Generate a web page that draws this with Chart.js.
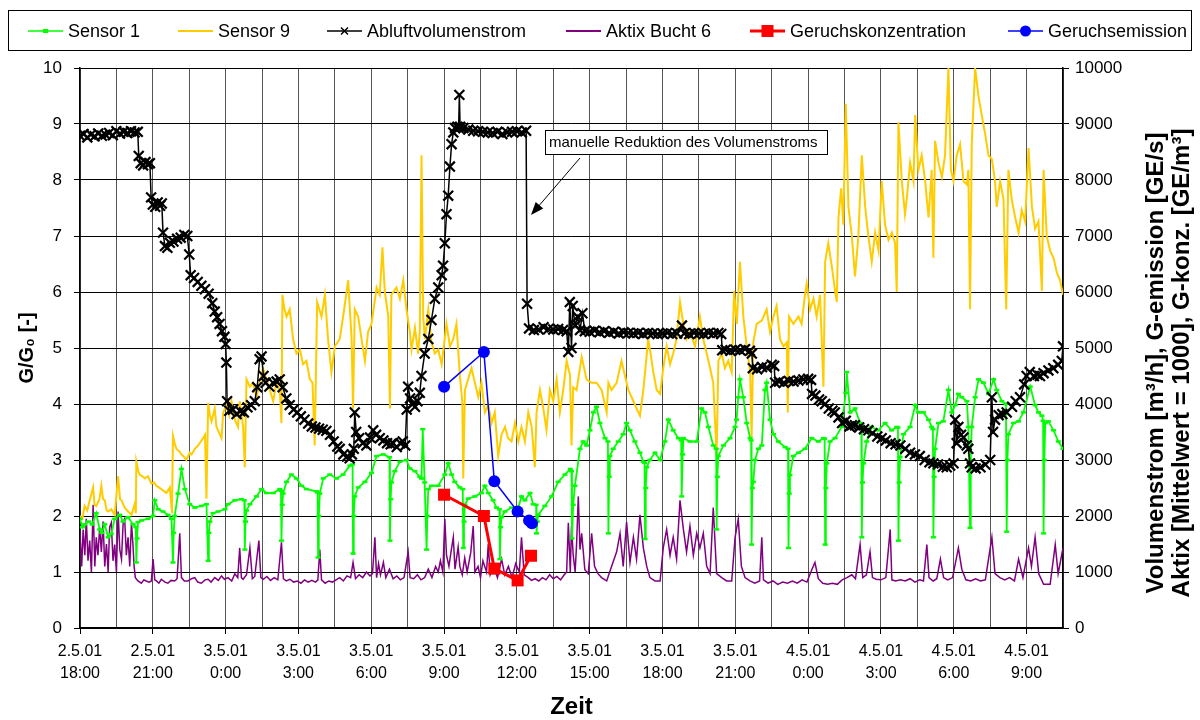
<!DOCTYPE html>
<html><head><meta charset="utf-8">
<script src="https://cdn.jsdelivr.net/npm/chart.js@4.4.0/dist/chart.umd.min.js"></script>
<style>html,body{margin:0;padding:0;background:#fff;}canvas{display:block;}</style>
</head><body>
<canvas id="c" width="1200" height="720" style="width:1200px;height:720px"></canvas>
<script>
// x = hours after 2.5.01 18:00
const xTickLabels = [['2.5.01','18:00'],['2.5.01','21:00'],['3.5.01','0:00'],['3.5.01','3:00'],['3.5.01','6:00'],['3.5.01','9:00'],['3.5.01','12:00'],['3.5.01','15:00'],['3.5.01','18:00'],['3.5.01','21:00'],['4.5.01','0:00'],['4.5.01','3:00'],['4.5.01','6:00'],['4.5.01','9:00']];

// Sensor 1 [G/G0]
const sensor1 = [[0,1.95],[0.10,1.80],[0.19,1.85],[0.35,1.90],[0.50,1.85],[0.67,2.05],[0.81,1.76],[0.90,1.70],[1.02,1.85],[1.16,1.62],[1.29,1.68],[1.43,1.95],[1.64,2.02],[1.77,1.90],[1.98,1.98],[2.19,1.85],[2.30,1.80],[2.32,1.17],[2.35,1.60],[2.39,1.89],[2.53,1.92],[2.80,1.95],[3.01,2.00],[3.08,2.28],[3.22,2.12],[3.42,2.08],[3.63,2.02],[3.77,1.95],[3.83,1.17],[3.86,1.70],[3.90,2.00],[4.04,2.40],[4.18,2.84],[4.32,2.48],[4.52,2.21],[4.73,2.15],[5.00,2.18],[5.21,2.21],[5.28,1.20],[5.31,1.70],[5.35,1.90],[5.48,2.05],[5.69,2.08],[5.97,2.12],[6.10,2.21],[6.38,2.28],[6.65,2.30],[6.77,2.28],[6.79,1.40],[6.82,1.90],[6.86,2.10],[7.00,2.21],[7.27,2.35],[7.48,2.48],[7.68,2.41],[7.96,2.41],[8.23,2.48],[8.28,2.45],[8.30,1.56],[8.33,2.20],[8.37,2.40],[8.51,2.61],[8.71,2.74],[8.92,2.67],[9.13,2.54],[9.33,2.48],[9.75,2.44],[9.79,2.42],[9.81,1.26],[9.84,2.00],[9.88,2.40],[10.02,2.67],[10.29,2.74],[10.57,2.67],[10.84,2.74],[11.12,2.90],[11.23,2.92],[11.25,1.33],[11.28,2.00],[11.32,2.35],[11.46,2.51],[11.74,2.61],[12.01,2.77],[12.22,3.07],[12.49,3.10],[12.75,3.05],[12.77,1.56],[12.80,2.30],[12.83,2.60],[12.97,2.80],[13.18,2.97],[13.45,3.00],[13.59,2.85],[13.80,2.80],[14.00,2.70],[14.07,2.67],[14.12,3.55],[14.20,2.60],[14.28,1.40],[14.31,2.00],[14.35,2.48],[14.48,2.54],[14.76,2.54],[15.03,2.74],[15.17,2.94],[15.31,2.74],[15.44,2.61],[15.65,2.51],[15.77,2.48],[15.79,1.43],[15.82,1.90],[15.86,2.20],[15.99,2.31],[16.27,2.35],[16.54,2.41],[16.68,2.54],[16.82,2.41],[17.02,2.28],[17.16,2.15],[17.28,2.12],[17.30,1.23],[17.33,1.80],[17.37,1.98],[17.51,2.08],[17.78,2.15],[18.06,2.15],[18.19,2.35],[18.33,2.28],[18.54,2.41],[18.67,2.21],[18.79,2.20],[18.81,1.69],[18.84,1.90],[18.88,2.02],[19.15,2.18],[19.43,2.35],[19.70,2.61],[19.98,2.74],[20.20,2.84],[20.25,2.80],[20.27,1.60],[20.32,2.20],[20.39,2.54],[20.60,3.20],[20.73,3.33],[20.87,3.26],[21.01,3.53],[21.15,3.85],[21.28,3.95],[21.42,3.66],[21.63,3.39],[21.75,3.33],[21.77,1.69],[21.80,2.70],[21.83,3.07],[21.97,3.20],[22.18,3.33],[22.38,3.46],[22.52,3.66],[22.66,3.53],[22.86,3.33],[23.07,3.13],[23.21,2.97],[23.26,2.95],[23.28,1.59],[23.31,2.50],[23.35,2.87],[23.48,3.00],[23.69,3.13],[23.90,3.00],[24.10,3.33],[24.24,3.72],[24.44,3.53],[24.65,3.39],[24.77,3.35],[24.79,2.35],[24.83,3.10],[24.86,3.39],[25.13,3.33],[25.41,3.33],[25.61,3.92],[25.75,3.85],[25.89,3.59],[26.09,3.26],[26.21,3.20],[26.23,1.76],[26.26,2.70],[26.30,3.07],[26.51,3.26],[26.78,3.39],[26.99,3.59],[27.05,3.72],[27.12,4.12],[27.19,4.44],[27.33,4.12],[27.47,3.66],[27.61,3.39],[27.65,3.35],[27.67,1.49],[27.70,2.50],[27.74,2.61],[27.81,3.00],[27.95,3.20],[28.09,3.26],[28.22,4.25],[28.29,4.38],[28.43,3.72],[28.57,3.46],[28.77,3.33],[29.05,3.23],[29.17,3.20],[29.19,1.43],[29.22,2.40],[29.25,2.73],[29.39,3.07],[29.60,3.13],[29.87,3.20],[30.15,3.39],[30.42,3.33],[30.63,3.39],[30.68,3.38],[30.70,1.49],[30.73,2.50],[30.77,2.94],[30.90,3.33],[31.11,3.39],[31.38,3.59],[31.55,4.20],[31.59,4.57],[31.73,3.85],[31.93,3.92],[32.14,3.66],[32.19,3.60],[32.21,1.62],[32.24,2.60],[32.28,2.94],[32.41,3.33],[32.62,3.59],[32.89,3.53],[33.17,3.66],[33.44,3.53],[33.65,3.59],[33.70,3.58],[33.72,1.56],[33.75,2.60],[33.79,3.05],[33.93,3.46],[34.20,3.59],[34.41,3.98],[34.54,3.85],[34.75,3.85],[34.96,3.72],[35.09,3.59],[35.14,3.55],[35.16,1.62],[35.19,2.70],[35.23,3.20],[35.37,3.66],[35.57,3.69],[35.78,4.25],[35.92,3.85],[36.06,3.98],[36.19,4.18],[36.33,4.12],[36.54,4.05],[36.60,3.59],[36.67,1.79],[36.70,3.00],[36.74,3.59],[36.88,4.12],[37.02,4.44],[37.22,4.38],[37.43,4.18],[37.64,4.44],[37.77,4.25],[37.98,4.05],[38.15,4.00],[38.18,1.72],[38.21,3.00],[38.25,3.46],[38.46,3.66],[38.67,3.69],[38.87,3.85],[39.15,4.31],[39.35,3.98],[39.49,3.85],[39.63,3.79],[39.68,3.70],[39.70,1.69],[39.73,3.00],[39.77,3.66],[39.90,3.69],[40.11,3.53],[40.31,3.33],[40.50,3.20]];

// Sensor 9 [G/G0]
const sensor9 = [[0,2.00],[0.10,1.95],[0.19,2.18],[0.30,2.10],[0.40,2.28],[0.54,2.51],[0.60,2.20],[0.67,2.18],[0.80,2.30],[0.88,2.54],[0.95,2.30],[1.02,2.28],[1.10,2.10],[1.16,2.08],[1.29,2.12],[1.43,2.02],[1.57,2.71],[1.65,2.30],[1.71,2.28],[1.84,2.15],[1.98,2.08],[2.12,2.02],[2.25,2.21],[2.30,2.05],[2.32,2.97],[2.40,2.80],[2.46,2.74],[2.60,2.70],[2.67,2.67],[2.80,2.71],[2.94,2.58],[3.05,2.60],[3.15,2.54],[3.35,2.48],[3.56,2.41],[3.70,2.51],[3.79,2.05],[3.83,3.43],[3.90,3.30],[3.97,3.20],[4.10,3.15],[4.18,3.10],[4.30,3.05],[4.38,3.00],[4.52,3.13],[4.60,3.10],[4.73,3.20],[4.85,3.25],[4.93,3.30],[5.07,3.39],[5.15,3.45],[5.21,2.31],[5.28,4.02],[5.35,3.80],[5.42,3.69],[5.55,3.92],[5.62,3.60],[5.69,3.53],[5.83,3.39],[5.90,3.85],[6.03,3.98],[6.15,3.80],[6.24,4.05],[6.38,3.72],[6.51,3.59],[6.58,4.05],[6.72,3.59],[6.79,2.87],[6.86,4.44],[7.00,4.31],[7.13,4.38],[7.27,4.12],[7.41,4.38],[7.54,4.64],[7.68,4.44],[7.82,4.25],[7.96,4.05],[8.09,4.38],[8.23,4.25],[8.30,3.66],[8.34,5.95],[8.42,5.70],[8.51,5.56],[8.64,5.69],[8.78,5.16],[8.92,4.90],[9.06,4.97],[9.19,4.71],[9.33,4.77],[9.47,4.44],[9.58,4.38],[9.67,3.26],[9.77,5.82],[9.95,5.56],[10.09,5.95],[10.22,5.16],[10.36,4.57],[10.50,5.03],[10.70,5.16],[10.84,5.56],[11.05,6.21],[11.19,5.16],[11.25,3.92],[11.32,5.69],[11.46,5.56],[11.60,5.16],[11.74,4.77],[11.87,5.29],[12.01,5.43],[12.22,6.08],[12.35,5.95],[12.46,6.80],[12.56,6.00],[12.70,5.56],[12.77,3.92],[12.83,5.95],[13.04,6.08],[13.18,5.88],[13.32,6.21],[13.45,5.69],[13.59,5.29],[13.66,4.97],[13.80,5.36],[13.93,4.90],[14.00,5.30],[14.07,8.44],[14.14,5.56],[14.21,5.16],[14.35,5.69],[14.48,5.10],[14.62,4.90],[14.76,4.97],[14.90,4.71],[15.10,5.43],[15.24,5.03],[15.38,5.16],[15.51,5.43],[15.65,4.51],[15.75,4.05],[15.79,2.67],[15.86,4.25],[15.99,4.44],[16.13,4.64],[16.27,4.38],[16.41,4.12],[16.54,4.38],[16.68,3.85],[16.82,3.98],[16.96,3.66],[17.09,3.85],[17.23,3.07],[17.37,3.46],[17.51,3.59],[17.64,3.39],[17.78,3.33],[17.92,3.66],[18.06,3.33],[18.19,3.59],[18.33,3.33],[18.47,3.85],[18.61,3.59],[18.74,2.87],[18.81,3.85],[18.95,4.25],[19.09,3.92],[19.22,3.53],[19.36,4.25],[19.50,4.05],[19.64,4.44],[19.77,3.85],[19.91,4.25],[20.05,4.77],[20.19,4.51],[20.25,3.26],[20.32,4.30],[20.46,4.25],[20.67,4.84],[20.87,4.44],[21.08,4.38],[21.28,4.38],[21.49,4.25],[21.56,4.12],[21.70,3.85],[21.77,4.38],[21.90,4.25],[22.11,4.38],[22.31,4.77],[22.45,4.51],[22.59,4.25],[22.73,4.12],[22.93,3.92],[23.07,3.79],[23.21,4.25],[23.41,5.16],[23.51,4.90],[23.62,4.57],[23.76,4.25],[23.90,4.18],[24.03,4.64],[24.17,5.03],[24.31,4.71],[24.44,4.90],[24.58,5.16],[24.72,5.82],[24.86,5.43],[24.99,5.16],[25.13,5.29],[25.34,5.03],[25.54,5.56],[25.68,5.16],[25.82,4.90],[25.96,4.64],[26.09,4.38],[26.23,3.07],[26.30,4.77],[26.44,4.90],[26.57,4.64],[26.71,4.77],[26.85,4.57],[26.95,6.02],[27.06,5.43],[27.19,6.54],[27.33,5.56],[27.47,5.03],[27.61,4.57],[27.67,3.39],[27.74,5.10],[27.88,5.43],[28.09,5.49],[28.29,5.69],[28.43,5.29],[28.57,5.56],[28.70,5.75],[28.84,5.16],[28.98,5.03],[29.12,5.10],[29.16,3.85],[29.21,5.56],[29.39,5.43],[29.60,5.56],[29.73,5.43],[29.87,5.95],[29.94,6.15],[30.08,5.69],[30.22,5.88],[30.35,5.56],[30.49,5.95],[30.63,4.31],[30.70,6.54],[30.83,6.87],[30.97,6.47],[31.11,6.02],[31.18,5.82],[31.25,7.33],[31.36,7.85],[31.45,7.20],[31.55,9.36],[31.66,7.52],[31.80,7.00],[31.93,6.28],[32.07,7.00],[32.21,8.44],[32.35,7.52],[32.48,7.00],[32.62,6.54],[32.76,7.06],[32.90,6.74],[33.03,7.98],[33.17,7.20],[33.31,6.93],[33.45,7.06],[33.58,6.87],[33.65,6.00],[33.72,9.03],[33.86,7.98],[33.99,7.39],[34.06,7.65],[34.20,8.31],[34.34,7.98],[34.41,9.16],[34.54,8.18],[34.68,8.44],[34.82,7.98],[34.96,7.33],[35.09,8.18],[35.16,6.61],[35.23,8.70],[35.37,8.31],[35.51,8.05],[35.64,8.44],[35.78,10.0],[35.88,8.18],[35.99,7.98],[36.12,8.44],[36.26,8.64],[36.40,7.98],[36.54,7.92],[36.60,8.18],[36.67,5.69],[36.74,8.64],[36.88,10.0],[37.02,9.49],[37.15,9.16],[37.29,8.83],[37.43,8.44],[37.57,8.37],[37.70,7.98],[37.77,7.52],[37.91,7.98],[38.05,7.65],[38.16,5.69],[38.25,8.18],[38.39,7.65],[38.53,7.33],[38.67,7.06],[38.80,7.46],[38.94,7.26],[39.08,8.57],[39.22,7.52],[39.35,7.13],[39.49,7.26],[39.63,6.02],[39.70,8.18],[39.83,7.00],[39.97,6.74],[40.11,6.61],[40.25,6.34],[40.38,6.21],[40.50,5.95]];

// Abluftvolumenstrom [m3/h]
const abluft = [[0,8790],[0.15,8820],[0.30,8760],[0.45,8810],[0.60,8780],[0.75,8830],[0.90,8790],[1.05,8810],[1.20,8840],[1.35,8800],[1.50,8870],[1.65,8830],[1.80,8860],[1.95,8840],[2.10,8870],[2.25,8850],[2.38,8860],[2.42,8430],[2.50,8300],[2.60,8260],[2.70,8320],[2.80,8280],[2.88,8300],[2.93,7690],[3.00,7560],[3.10,7520],[3.20,7600],[3.30,7540],[3.37,7580],[3.42,7060],[3.50,6820],[3.60,6790],[3.70,6880],[3.85,6900],[4.00,6950],[4.15,6970],[4.30,7020],[4.42,7000],[4.50,6670],[4.56,6300],[4.70,6250],[4.85,6180],[5.00,6110],[5.15,6050],[5.30,5970],[5.45,5800],[5.55,5650],[5.65,5550],[5.75,5430],[5.85,5300],[5.95,5200],[6.00,5070],[6.03,4740],[6.06,4050],[6.15,3880],[6.30,3900],[6.45,3820],[6.60,3870],[6.75,3850],[6.90,3940],[7.05,3980],[7.20,4050],[7.30,4300],[7.40,4800],[7.48,4850],[7.56,4500],[7.65,4380],[7.80,4310],[7.95,4380],[8.10,4400],[8.23,4440],[8.35,4300],[8.50,4100],[8.64,3980],[8.80,3900],[8.95,3850],[9.10,3780],[9.25,3720],[9.40,3650],[9.55,3600],[9.70,3580],[9.85,3560],[10.00,3540],[10.15,3520],[10.30,3450],[10.45,3330],[10.60,3240],[10.70,3200],[10.85,3100],[11.00,3060],[11.11,3030],[11.20,3100],[11.28,3200],[11.32,3850],[11.38,3500],[11.50,3390],[11.65,3300],[11.80,3260],[11.95,3400],[12.08,3530],[12.20,3450],[12.35,3390],[12.50,3350],[12.65,3300],[12.80,3280],[12.90,3300],[13.05,3230],[13.20,3300],[13.30,3330],[13.40,3260],[13.46,3900],[13.52,4310],[13.60,4100],[13.70,4000],[13.80,3950],[13.90,4050],[14.00,4200],[14.07,4500],[14.20,4900],[14.35,5160],[14.48,5500],[14.62,5880],[14.76,6080],[14.90,6300],[14.96,6470],[15.03,6870],[15.10,7390],[15.17,7720],[15.24,8240],[15.31,8640],[15.38,8850],[15.45,8930],[15.55,8950],[15.60,8930],[15.63,9520],[15.66,8950],[15.80,8930],[16.00,8900],[16.20,8880],[16.40,8870],[16.60,8860],[16.80,8850],[17.00,8840],[17.20,8860],[17.40,8820],[17.60,8850],[17.80,8860],[18.00,8870],[18.20,8850],[18.38,8880],[18.42,5790],[18.50,5350],[18.70,5320],[18.90,5330],[19.10,5370],[19.30,5340],[19.50,5330],[19.70,5340],[19.90,5320],[20.05,5300],[20.12,4930],[20.18,5820],[20.25,5000],[20.30,5750],[20.40,5400],[20.50,5560],[20.60,5320],[20.70,5620],[20.80,5300],[21.00,5290],[21.20,5310],[21.40,5280],[21.60,5300],[21.80,5270],[22.00,5290],[22.20,5260],[22.40,5280],[22.60,5270],[22.80,5260],[23.00,5270],[23.20,5250],[23.40,5270],[23.60,5260],[23.80,5250],[24.00,5260],[24.20,5270],[24.40,5250],[24.60,5260],[24.80,5400],[24.90,5260],[25.10,5250],[25.30,5270],[25.50,5260],[25.70,5250],[25.90,5270],[26.10,5260],[26.30,5270],[26.42,5250],[26.46,4960],[26.60,4970],[26.80,4950],[27.00,4970],[27.20,4960],[27.40,4980],[27.60,4950],[27.68,4900],[27.72,4640],[27.90,4620],[28.10,4660],[28.30,4650],[28.50,4700],[28.60,4680],[28.64,4380],[28.80,4400],[29.00,4380],[29.20,4410],[29.40,4400],[29.60,4420],[29.80,4440],[30.00,4450],[30.12,4430],[30.16,4180],[30.30,4150],[30.45,4080],[30.56,4050],[30.70,4000],[30.85,3920],[31.00,3880],[31.10,3850],[31.25,3760],[31.40,3660],[31.55,3700],[31.70,3600],[31.80,3620],[31.93,3620],[32.10,3580],[32.30,3550],[32.48,3530],[32.65,3480],[32.85,3420],[33.03,3390],[33.20,3350],[33.40,3300],[33.60,3280],[33.80,3260],[34.00,3200],[34.20,3130],[34.40,3100],[34.60,3070],[34.80,3000],[35.00,2960],[35.16,2940],[35.35,2920],[35.55,2880],[35.71,2870],[35.85,2900],[35.99,2940],[36.06,3720],[36.12,3300],[36.19,3590],[36.30,3450],[36.40,3400],[36.53,3260],[36.60,3200],[36.67,2940],[36.74,2870],[36.90,2850],[37.10,2870],[37.30,2920],[37.50,3000],[37.57,4120],[37.62,3500],[37.70,3720],[37.85,3800],[38.00,3820],[38.18,3850],[38.40,3950],[38.55,4050],[38.73,4120],[38.90,4350],[39.00,4500],[39.13,4570],[39.30,4500],[39.45,4520],[39.55,4500],[39.70,4550],[39.90,4600],[40.10,4640],[40.30,4700],[40.45,4770],[40.50,5030]];

// Aktix Bucht 6 [Mittelwert = 1000]
const aktix = [[0,1700],[0.07,1100],[0.13,1760],[0.20,1300],[0.26,1950],[0.33,1200],[0.40,1560],[0.47,1000],[0.54,2200],[0.61,1100],[0.67,1620],[0.74,1300],[0.81,1800],[0.88,1360],[0.95,1900],[1.02,1100],[1.09,1500],[1.16,1000],[1.22,1800],[1.29,1880],[1.36,1200],[1.43,1490],[1.50,1000],[1.57,2080],[1.64,1400],[1.71,1230],[1.78,1900],[1.84,1950],[1.91,1300],[1.98,1620],[2.05,1100],[2.12,1880],[2.18,1500],[2.23,1100],[2.28,900],[2.39,840],[2.53,800],[2.63,860],[2.73,840],[2.85,820],[2.94,840],[3.01,1230],[3.08,860],[3.15,840],[3.25,800],[3.35,870],[3.50,820],[3.62,800],[3.75,850],[3.90,840],[4.00,880],[4.11,1690],[4.18,900],[4.30,840],[4.45,840],[4.60,880],[4.73,900],[4.85,820],[5.00,800],[5.15,860],[5.28,870],[5.40,820],[5.55,900],[5.70,850],[5.83,930],[5.95,870],[6.10,900],[6.25,840],[6.38,970],[6.50,900],[6.58,1430],[6.65,900],[6.72,870],[6.86,950],[7.00,1430],[7.10,880],[7.20,920],[7.37,1560],[7.45,900],[7.55,870],[7.70,920],[7.85,850],[8.00,900],[8.15,860],[8.30,1530],[8.38,880],[8.50,840],[8.65,870],[8.80,820],[8.95,840],[9.10,800],[9.25,860],[9.40,820],[9.55,850],[9.70,820],[9.80,860],[9.88,1400],[9.95,860],[10.10,800],[10.25,840],[10.40,820],[10.55,860],[10.70,900],[10.85,840],[11.00,930],[11.15,900],[11.25,1170],[11.35,880],[11.50,950],[11.65,900],[11.80,1000],[11.95,930],[12.05,970],[12.15,1620],[12.22,900],[12.30,1150],[12.38,950],[12.50,1170],[12.60,900],[12.75,1050],[12.90,880],[13.05,930],[13.20,860],[13.35,900],[13.52,1360],[13.60,900],[13.75,880],[13.90,950],[14.05,860],[14.20,900],[14.35,1050],[14.50,900],[14.65,1100],[14.76,1000],[14.85,1200],[14.95,1000],[15.03,1950],[15.10,1300],[15.20,1100],[15.30,1400],[15.38,1620],[15.45,1050],[15.58,1450],[15.65,1100],[15.75,950],[15.85,1250],[15.95,1000],[16.10,1350],[16.20,1820],[16.27,1000],[16.40,1100],[16.50,900],[16.60,1200],[16.75,1000],[16.82,1500],[16.90,950],[17.05,1100],[17.20,900],[17.37,1230],[17.50,950],[17.65,1100],[17.80,900],[17.95,1150],[18.10,1000],[18.19,1620],[18.30,950],[18.47,900],[18.60,850],[18.75,880],[18.90,840],[19.05,900],[19.20,860],[19.35,950],[19.50,880],[19.65,920],[19.80,860],[19.95,950],[20.05,1000],[20.12,1880],[20.20,1000],[20.25,1820],[20.32,1300],[20.40,1000],[20.46,1500],[20.53,2350],[20.60,1400],[20.67,1690],[20.80,1040],[20.94,970],[21.08,1690],[21.20,1100],[21.34,970],[21.49,900],[21.70,840],[21.90,1100],[22.11,1360],[22.25,1690],[22.38,1100],[22.52,1890],[22.66,1170],[22.80,1620],[22.93,1230],[23.07,2020],[23.21,1430],[23.35,1100],[23.48,900],[23.69,840],[23.90,840],[24.03,1430],[24.17,1760],[24.31,1300],[24.44,1620],[24.58,1230],[24.72,2280],[24.86,1760],[24.99,1360],[25.13,1820],[25.27,1300],[25.41,1690],[25.54,1430],[25.68,1690],[25.82,1100],[25.96,970],[26.09,2150],[26.23,970],[26.44,900],[26.64,840],[26.85,840],[26.99,1620],[27.12,1950],[27.25,1100],[27.40,900],[27.60,840],[27.80,800],[28.00,840],[28.09,1620],[28.16,860],[28.35,800],[28.55,840],[28.75,780],[28.95,820],[29.15,800],[29.35,840],[29.55,800],[29.75,860],[29.95,820],[30.15,1040],[30.28,1170],[30.42,880],[30.60,800],[30.80,780],[31.00,800],[31.20,780],[31.40,860],[31.60,900],[31.80,950],[31.95,880],[32.14,1490],[32.25,900],[32.40,950],[32.55,1360],[32.65,900],[32.80,870],[33.00,860],[33.20,900],[33.38,1760],[33.45,860],[33.60,840],[33.80,860],[34.00,840],[34.20,880],[34.40,820],[34.60,860],[34.75,840],[34.89,1490],[34.98,900],[35.15,840],[35.30,880],[35.45,1230],[35.58,900],[35.75,860],[35.95,900],[36.19,1430],[36.33,1050],[36.50,860],[36.70,840],[36.90,880],[37.10,840],[37.30,860],[37.57,1620],[37.70,970],[37.90,900],[38.10,860],[38.30,900],[38.50,840],[38.67,1230],[38.85,900],[39.08,1430],[39.20,1100],[39.35,1620],[39.50,970],[39.70,780],[39.97,780],[40.18,1490],[40.30,970],[40.50,1430]];

// Geruchskonzentration [GE/m3]
const geruchKonz = [[15.00,2380],[16.64,2000],[17.07,1060],[18.03,850],[18.58,1290]];
// Geruchsemission [GE/s]
const geruchEmis = [[15.00,4310],[16.64,4930],[17.07,2620],[18.03,2080],[18.50,1920],[18.62,1870]];

const FONT = "'Liberation Sans', Arial, Helvetica, sans-serif";
Chart.defaults.font.family = FONT;
Chart.defaults.color = '#000';
const toXY = a => a.map(p => ({x: p[0], y: p[1]}));

const legendItems = [
  {text: 'Sensor 1', x: 28, color: '#00FF00', lw: 1.5, mark: 'dash'},
  {text: 'Sensor 9', x: 178, color: '#FFCC00', lw: 2, mark: null},
  {text: 'Abluftvolumenstrom', x: 327, color: '#000000', lw: 1.5, mark: 'x'},
  {text: 'Aktix Bucht 6', x: 566, color: '#800080', lw: 2, mark: null},
  {text: 'Geruchskonzentration', x: 750, color: '#FF0000', lw: 3, mark: 'sq'},
  {text: 'Geruchsemission', x: 1008, color: '#0000FF', lw: 1.5, mark: 'dot'}
];

const overlay = {
  id: 'overlay',
  beforeDraw(chart) {
    const c = chart.ctx; c.save(); c.fillStyle = '#fff'; c.fillRect(0, 0, chart.width, chart.height); c.restore();
  },
  afterDraw(chart) {
    const c = chart.ctx;
    c.save();
    c.strokeStyle = '#000'; c.lineWidth = 1;
    c.strokeRect(8.5, 10.5, 1183, 40);
    const ly = 31;
    c.font = '18px ' + FONT; c.textBaseline = 'middle'; c.textAlign = 'left';
    legendItems.forEach(it => {
      c.strokeStyle = it.color; c.fillStyle = it.color; c.lineWidth = it.lw;
      c.beginPath(); c.moveTo(it.x, ly); c.lineTo(it.x + 35, ly); c.stroke();
      const mx = it.x + 17.5;
      if (it.mark === 'dash') { c.fillRect(mx - 2.5, ly - 2, 5, 4); }
      if (it.mark === 'x') { c.lineWidth = 1.5; c.beginPath(); c.moveTo(mx-3.5, ly-3.5); c.lineTo(mx+3.5, ly+3.5); c.moveTo(mx+3.5, ly-3.5); c.lineTo(mx-3.5, ly+3.5); c.stroke(); }
      if (it.mark === 'sq') { c.fillRect(mx - 6, ly - 6, 12, 12); }
      if (it.mark === 'dot') { c.beginPath(); c.arc(mx, ly, 5.5, 0, Math.PI*2); c.fill(); }
      c.fillStyle = '#000';
      c.fillText(it.text, it.x + 40, ly + 1);
    });
    c.fillStyle = '#fff'; c.fillRect(545.5, 130.5, 282, 24);
    c.strokeStyle = '#000'; c.lineWidth = 1; c.strokeRect(545.5, 130.5, 282, 24);
    c.fillStyle = '#000'; c.font = '15px ' + FONT; c.textBaseline = 'middle';
    c.fillText('manuelle Reduktion des Volumenstroms', 549, 143);
    const x1 = 580, y1 = 158, x2 = 531, y2 = 215;
    const ang = Math.atan2(y2 - y1, x2 - x1);
    c.beginPath(); c.moveTo(x1, y1); c.lineTo(x2 - 10*Math.cos(ang), y2 - 10*Math.sin(ang)); c.stroke();
    c.beginPath(); c.moveTo(x2, y2);
    c.lineTo(x2 - 13*Math.cos(ang) + 5*Math.sin(ang), y2 - 13*Math.sin(ang) - 5*Math.cos(ang));
    c.lineTo(x2 - 13*Math.cos(ang) - 5*Math.sin(ang), y2 - 13*Math.sin(ang) + 5*Math.cos(ang));
    c.closePath(); c.fill();
    c.font = 'bold 24px ' + FONT; c.textAlign = 'center'; c.textBaseline = 'middle';
    [['Volumenstrom [m³/h], G-emission [GE/s]', 1156], ['Aktix [Mittelwert = 1000], G-konz. [GE/m³]', 1182]].forEach(([t, x]) => {
      c.save(); c.translate(x, 363); c.rotate(-Math.PI/2); c.fillText(t, 0, 0); c.restore();
    });
    c.restore();
  }
};

const isLabeled = v => { const k = v / 3; return Math.abs(k - Math.round(k)) < 1e-6 && !!xTickLabels[Math.round(k)]; };

new Chart(document.getElementById('c').getContext('2d'), {
  type: 'line',
  data: {
    datasets: [
      {label: 'Sensor 1', data: toXY(sensor1), yAxisID: 'y', order: 3, borderColor: '#00FF00', backgroundColor: '#00FF00', borderWidth: 1.8,
       pointStyle: 'line', pointRadius: 2.5, pointBorderWidth: 2.5, pointBorderColor: '#00FF00', pointBackgroundColor: '#00FF00'},
      {label: 'Sensor 9', data: toXY(sensor9), yAxisID: 'y', order: 4, borderColor: '#FFCC00', backgroundColor: '#FFCC00', borderWidth: 2, pointRadius: 0},
      {label: 'Abluftvolumenstrom', data: toXY(abluft), yAxisID: 'y1', order: 2, borderColor: '#000', backgroundColor: '#000', borderWidth: 1.5,
       pointStyle: 'crossRot', pointRadius: 7, pointBorderWidth: 2.2, pointBorderColor: '#000'},
      {label: 'Aktix Bucht 6', data: toXY(aktix), yAxisID: 'y1', order: 5, borderColor: '#800080', backgroundColor: '#800080', borderWidth: 1.5, pointRadius: 0},
      {label: 'Geruchskonzentration', data: toXY(geruchKonz), yAxisID: 'y1', order: 1, borderColor: '#FF0000', backgroundColor: '#FF0000', borderWidth: 3,
       pointStyle: 'rect', pointRadius: 8.5, pointBorderWidth: 0, pointBackgroundColor: '#FF0000'},
      {label: 'Geruchsemission', data: toXY(geruchEmis), yAxisID: 'y1', order: 0, borderColor: '#0000FF', backgroundColor: '#0000FF', borderWidth: 1.5,
       pointStyle: 'circle', pointRadius: 6, pointBorderWidth: 0, pointBackgroundColor: '#0000FF'}
    ]
  },
  options: {
    responsive: false, animation: false, devicePixelRatio: 1,
    layout: {padding: {top: 68, left: 0, right: 0, bottom: 0}},
    plugins: {legend: {display: false}, tooltip: {enabled: false}},
    scales: {
      x: {
        type: 'linear', position: 'bottom', min: 0, max: 40.5,
        afterFit: s => { s.height = 92; },
        ticks: {stepSize: 1.5, autoSkip: false, maxRotation: 0, minRotation: 0, padding: 7,
                font: {size: 16, lineHeight: 1.375},
                callback: v => isLabeled(v) ? xTickLabels[Math.round(v / 3)] : ''},
        grid: {color: '#555', lineWidth: 1, tickLength: 6, drawTicks: true,
               tickColor: ctx => (ctx.tick && isLabeled(ctx.tick.value)) ? '#000' : 'rgba(0,0,0,0)'},
        border: {color: '#000', width: 1.5},
        title: {display: true, text: 'Zeit', font: {size: 24, weight: 'bold', lineHeight: 1}, padding: {top: 0, bottom: 1}}
      },
      y: {
        type: 'linear', position: 'left', min: 0, max: 10,
        afterFit: s => { s.width = 80; },
        ticks: {stepSize: 1, padding: 12, font: {size: 17}},
        grid: {color: '#000', lineWidth: 1, tickLength: 6, tickColor: '#000'},
        border: {color: '#000', width: 1.5},
        title: {display: true, text: 'G/G₀ [-]', font: {size: 20, weight: 'bold'}, padding: {top: 15, bottom: 0}}
      },
      y1: {
        type: 'linear', position: 'right', min: 0, max: 10000,
        afterFit: s => { s.width = 137; },
        ticks: {stepSize: 1000, padding: 6, font: {size: 17}, callback: v => String(v)},
        grid: {drawOnChartArea: false, tickLength: 6, tickColor: '#000', color: '#000'},
        border: {color: '#000', width: 1.5}
      }
    }
  },
  plugins: [overlay]
});
</script>
</body></html>
